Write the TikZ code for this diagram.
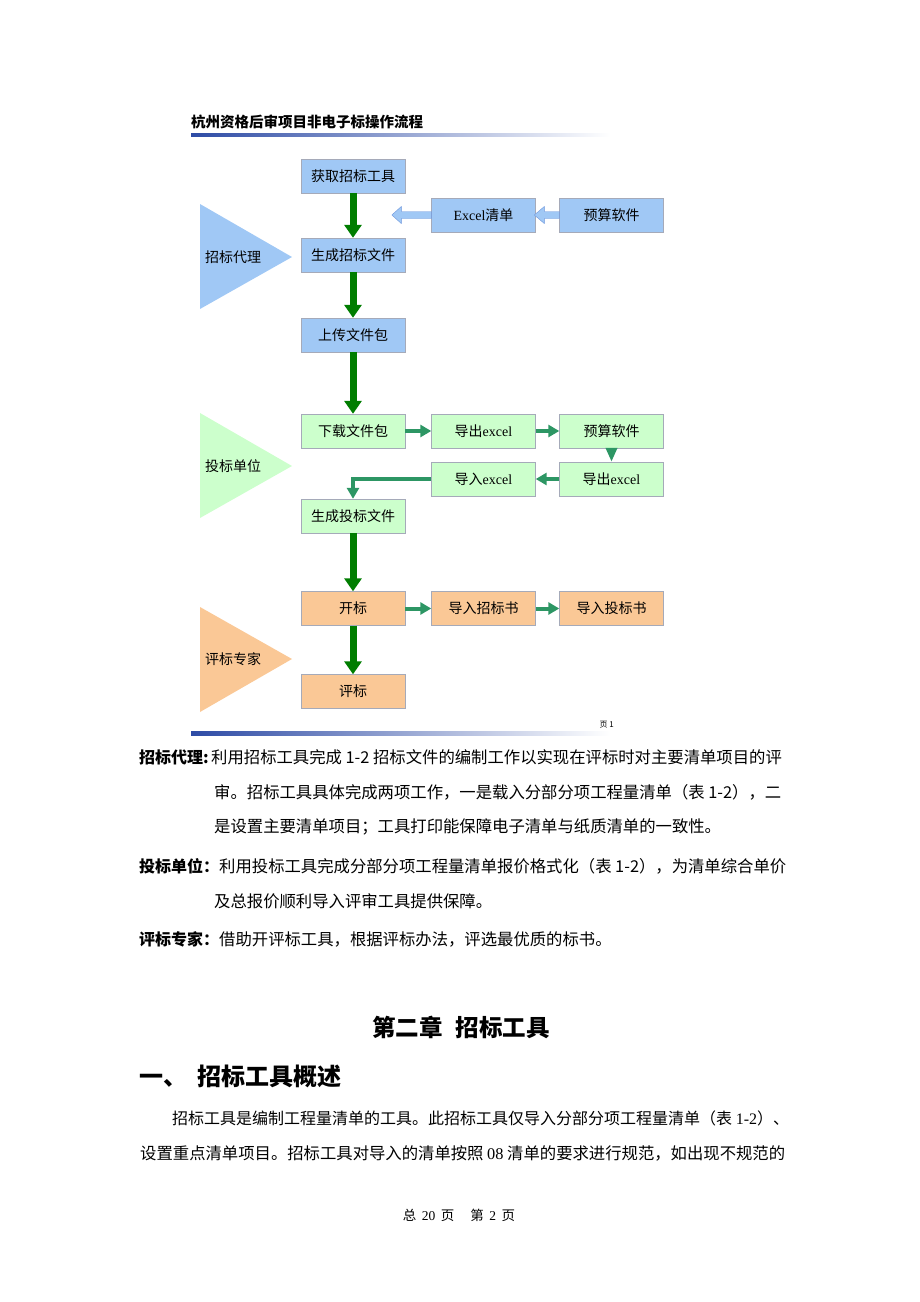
\documentclass[tikz,border=0pt]{standalone}
\usepackage{fontspec}
\setmainfont{Noto Sans CJK SC}
\newfontfamily\latn{Liberation Serif}
\usepackage{tikz}
\usetikzlibrary{arrows.meta,positioning}
\definecolor{bluefill}{RGB}{160,200,245}
\definecolor{greenfill}{RGB}{204,255,204}
\definecolor{orangefill}{RGB}{250,200,150}
\definecolor{boxline}{RGB}{165,170,185}
\definecolor{darkgreen}{RGB}{0,125,0}
\definecolor{seagreen}{RGB}{45,150,100}
\definecolor{arrowline}{RGB}{110,150,220}
\definecolor{ruleblue}{RGB}{45,75,165}
\definecolor{rulemid}{RGB}{150,165,215}
\tikzset{
    stepbox/.style={
           rectangle,
           draw=boxline, thin,
           minimum width=104pt,
           minimum height=34pt,
           inner sep=2pt,
           text centered,
           font=\fontsize{14pt}{14pt}\selectfont,
           },
    mainflow/.style={draw=darkgreen, line width=7pt, -{Triangle[width=17pt,length=13pt]}},
    sideflow/.style={draw=seagreen, line width=4pt, -{Triangle[width=12pt,length=11pt]}},
    blockarrow/.style={fill=bluefill, draw=arrowline, thin},
    role/.style={anchor=west, inner sep=0pt, font=\fontsize{14pt}{14pt}\selectfont},
    bodyline/.style={anchor=west, inner sep=0pt, font=\fontsize{16.35pt}{16.35pt}\selectfont},
    bodyhead/.style={anchor=west, inner sep=0pt, font=\bfseries\fontsize{16pt}{16pt}\selectfont},
}

\begin{document}
\begin{tikzpicture}[x=1pt,y=-1pt]
    \useasboundingbox (0,0) rectangle (920,1302);

    % page header
    \node[anchor=west, inner sep=0pt, font=\bfseries\fontsize{14.5pt}{14.5pt}\selectfont]
        (title) at (191,122) {杭州资格后审项目非电子标操作流程};
    \shade[left color=ruleblue, middle color=rulemid, right color=white]
        (191,133) rectangle (610,136.5);

    % role triangles
    \fill[bluefill] (200,204) -- (292,257) -- (200,309) -- cycle;
    \fill[greenfill] (200,413) -- (292,466) -- (200,518) -- cycle;
    \fill[orangefill] (200,607) -- (292,659) -- (200,712) -- cycle;
    \node[role] (agent) at (205,257) {招标代理};
    \node[role] (bidder) at (205,466) {投标单位};
    \node[role] (expert) at (205,659) {评标专家};

    % 招标代理
    \node[stepbox, fill=bluefill] (gettool) at (353,176) {获取招标工具};
    \node[stepbox, fill=bluefill] (excellist) at (483.5,215) {{\latn Excel}清单};
    \node[stepbox, fill=bluefill] (budgeta) at (611.5,215) {预算软件};
    \node[stepbox, fill=bluefill] (maketender) at (353,255) {生成招标文件};
    \node[stepbox, fill=bluefill] (upload) at (353,335) {上传文件包};

    % 投标单位
    \node[stepbox, fill=greenfill] (download) at (353,431) {下载文件包};
    \node[stepbox, fill=greenfill] (exporta) at (483.5,431) {导出{\latn excel}};
    \node[stepbox, fill=greenfill] (budgetb) at (611.5,431) {预算软件};
    \node[stepbox, fill=greenfill] (exportb) at (611.5,479) {导出{\latn excel}};
    \node[stepbox, fill=greenfill] (importx) at (483.5,479) {导入{\latn excel}};
    \node[stepbox, fill=greenfill] (makebid) at (353,516) {生成投标文件};

    % 评标专家
    \node[stepbox, fill=orangefill] (opening) at (353,608.5) {开标};
    \node[stepbox, fill=orangefill] (importt) at (483.5,608.5) {导入招标书};
    \node[stepbox, fill=orangefill] (importb) at (611.5,608.5) {导入投标书};
    \node[stepbox, fill=orangefill] (review) at (353,691.5) {评标};

    % main flow
    \draw[mainflow] (gettool) -- (maketender);
    \draw[mainflow] (maketender) -- (upload);
    \draw[mainflow] (upload) -- (download);
    \draw[mainflow] (makebid) -- (opening);
    \draw[mainflow] (opening) -- (review);

    % hollow block arrows
    \draw[blockarrow] (excellist.west) ++(0,-3.5) -- ++(-30,0) -- ++(0,-5)
        -- ++(-9.5,8.5) -- ++(9.5,8.5) -- ++(0,-5) -- ++(30,0) -- cycle;
    \draw[blockarrow] (budgeta.west) ++(0,-3.5) -- ++(-15,0) -- ++(0,-5)
        -- ++(-10,8.5) -- ++(10,8.5) -- ++(0,-5) -- ++(15,0) -- cycle;

    % side flow
    \draw[sideflow] (download) -- (exporta);
    \draw[sideflow] (exporta) -- (budgetb);
    \draw[sideflow, -{Triangle[width=11pt,length=14pt]}] (budgetb) -- (exportb);
    \draw[sideflow] (exportb) -- (importx);
    \draw[sideflow] (importx.west) -| (makebid.north);
    \draw[sideflow] (opening) -- (importt);
    \draw[sideflow] (importt) -- (importb);

    % page footer of the picture
    \node[anchor=east, inner sep=0pt, font=\fontsize{8pt}{8pt}\selectfont]
        (pageno) at (614,725) {页 1};
    \shade[left color=ruleblue, middle color=rulemid, right color=white]
        (191,731) rectangle (610,735);

    % text below
    \node[bodyhead] (agenthead) at (139,757) {招标代理:};
    \node[bodyline] (agenta) at (211,757) {利用招标工具完成 1-2 招标文件的编制工作以实现在评标时对主要清单项目的评};
    \node[bodyline] (agentb) at (214,792) {审。招标工具具体完成两项工作，一是载入分部分项工程量清单（表 1-2），二};
    \node[bodyline] (agentc) at (214,827) {是设置主要清单项目；工具打印能保障电子清单与纸质清单的一致性。};
    \node[bodyhead] (bidderhead) at (139,866) {投标单位：};
    \node[bodyline] (biddera) at (219,866) {利用投标工具完成分部分项工程量清单报价格式化（表 1-2），为清单综合单价};
    \node[bodyline] (bidderb) at (214,901) {及总报价顺利导入评审工具提供保障。};
    \node[bodyhead] (experthead) at (139,939) {评标专家：};
    \node[bodyline] (experta) at (219,939) {借助开评标工具，根据评标办法，评选最优质的标书。};

    \node[inner sep=0pt, font=\bfseries\fontsize{23.5pt}{23.5pt}\selectfont]
        (chapter) at (461,1027) {第二章\hspace{0.55em}招标工具};
    \node[anchor=west, inner sep=0pt, font=\bfseries\fontsize{24pt}{24pt}\selectfont]
        (section) at (139,1076) {一、\hspace{0.45em}招标工具概述};
    \node[bodyline, font=\fontsize{16pt}{16pt}\selectfont] (parta) at (172,1118) {招标工具是编制工程量清单的工具。此招标工具仅导入分部分项工程量清单（表 {\latn 1-2}）、};
    \node[bodyline] (partb) at (140,1153) {设置重点清单项目。招标工具对导入的清单按照 {\latn 08} 清单的要求进行规范，如出现不规范的};

    \node[inner sep=0pt, font=\fontsize{13.5pt}{13.5pt}\selectfont]
        (footer) at (459,1215) {总\hspace{0.4em}{\latn 20}\hspace{0.4em}页\hspace{1.2em}第\hspace{0.4em}{\latn 2}\hspace{0.4em}页};
\end{tikzpicture}
\end{document}
